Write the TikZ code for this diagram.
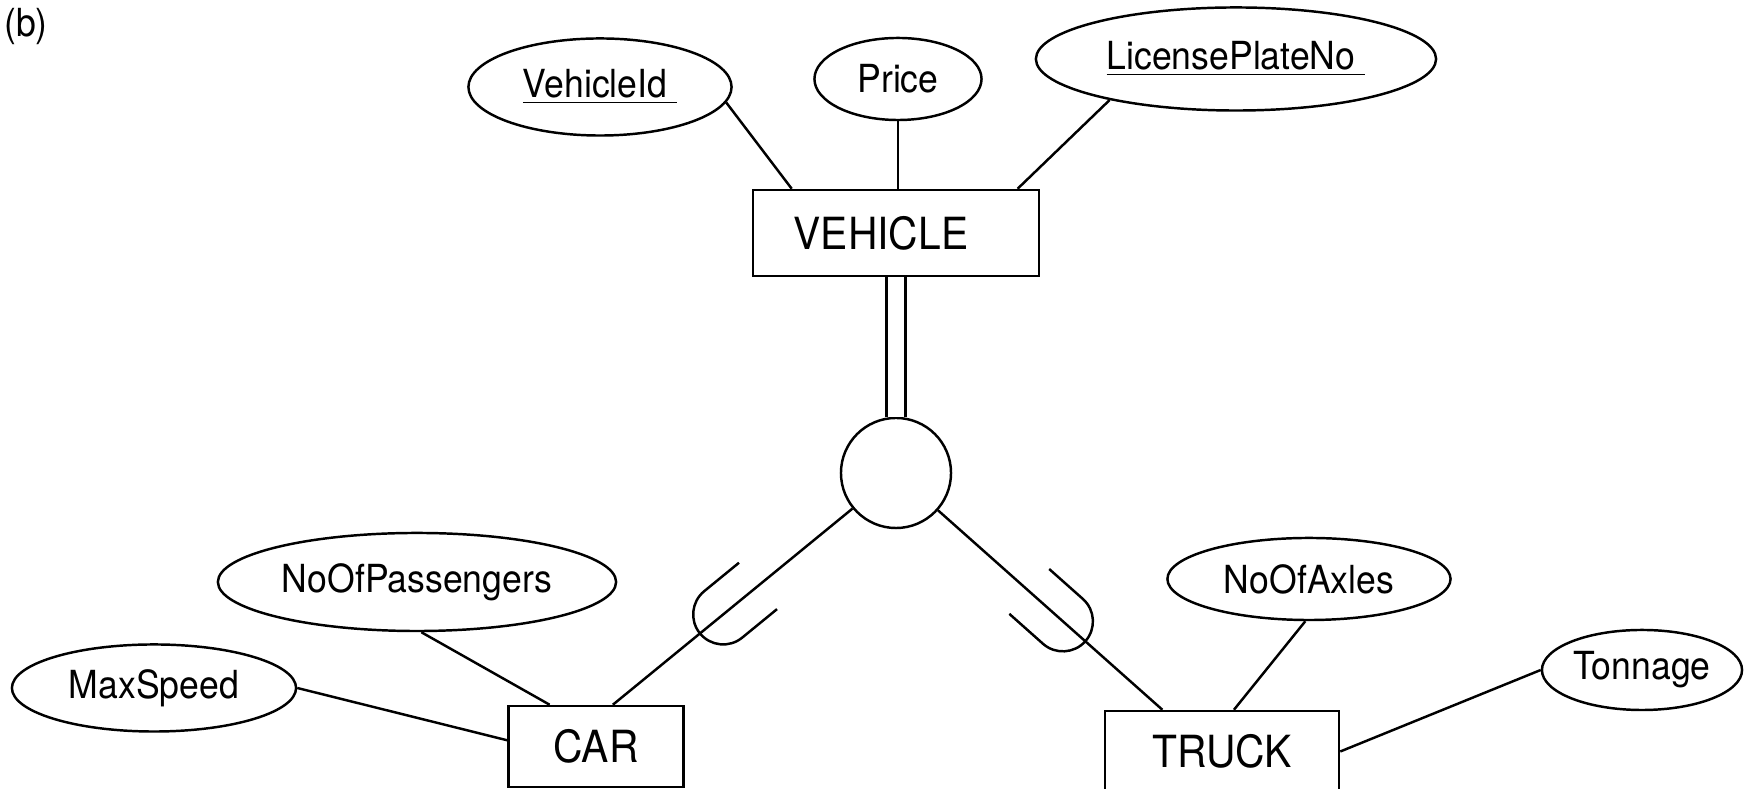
\documentclass[tikz,border=0pt]{standalone}
\usepackage{fontspec}
\setmainfont{TeX Gyre Heros}[FakeStretch=0.92]
\usetikzlibrary{shapes.geometric,decorations.markings}

\tikzset{
  entity/.style={draw, rectangle, inner sep=0pt, font=\fontsize{12.6}{15}\selectfont},
  attr/.style={draw, ellipse, inner sep=0pt, font=\fontsize{11}{13}\selectfont},
  isa/.style={draw, circle, inner sep=0pt, minimum size=1.1cm},
  subset/.style={postaction={decorate}, decoration={markings, mark=at position 1.22cm with {\draw (0,30) -- (45,30) arc[start angle=90, end angle=-90, radius=30] -- (0,-30);}}}
}

\begin{document}
\begin{tikzpicture}[x=0.01cm, y=-0.01cm, line width=0.7pt]
\useasboundingbox (0,0) rectangle (1750,789);
\node (lbl) at (26,27){\fontsize{11}{13}\selectfont (b)};
\node[entity, minimum width=2.86cm, minimum height=0.86cm] (vehicle) at (896, 233){VEHICLE\hspace*{0.3cm}};
\node[attr, minimum width=2.63cm, minimum height=0.97cm] (vid) at (600, 87){\underline{VehicleId\ }};
\node[attr, minimum width=1.67cm, minimum height=0.82cm] (price) at (898, 79){Price};
\node[attr, minimum width=4.00cm, minimum height=1.03cm] (lpn) at (1236, 59){\underline{LicensePlateNo\ }};
\node[isa] (sub) at (896, 473){};
\node[entity, minimum width=1.75cm, minimum height=0.81cm] (car) at (596, 746.5){CAR};
\node[entity, minimum width=2.34cm, minimum height=0.81cm] (truck) at (1222, 751.5){TRUCK};
\node[attr, minimum width=3.98cm, minimum height=0.98cm] (nop) at (417, 582){NoOfPassengers};
\node[attr, minimum width=2.84cm, minimum height=0.87cm] (ms) at (154, 688){MaxSpeed};
\node[attr, minimum width=2.83cm, minimum height=0.82cm] (noa) at (1309, 579){NoOfAxles};
\node[attr, minimum width=2.00cm, minimum height=0.80cm] (ton) at (1642, 670){Tonnage};
\draw(vid.-7) -- (vehicle.157);
\draw(price.south) -- (price.south |- vehicle.north);
\draw(lpn.198) -- (vehicle.20);
\draw[double, double distance=4.7pt](vehicle) -- (sub);
\draw[subset](sub) -- (car.68);
\draw[subset](sub) -- (truck.145);
\draw(nop.-85) -- (car.138);
\draw(ms.east) -- (car.176);
\draw(noa.-95) -- (truck.74);
\draw(ton.west) -- (truck.east);
\end{tikzpicture}
\end{document}
